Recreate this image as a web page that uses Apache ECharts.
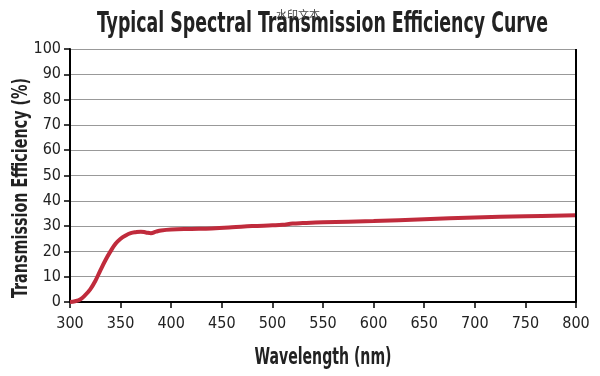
<!DOCTYPE html>
<html>
<head>
<meta charset="utf-8">
<script src="https://cdn.jsdelivr.net/npm/echarts@6/dist/echarts.min.js"></script>
<style>
  html, body { margin: 0; padding: 0; background: #fff; }
  #chart { width: 600px; height: 376px; }
</style>
</head>
<body>
<div id="chart"></div>
<script>
// wavelength (nm) and transmission (%)
const wavelengths = [300, 305, 310, 315, 320, 325, 330, 335, 340, 345, 350, 355, 360, 365, 370, 375, 380, 385, 390, 400, 420, 440, 460, 480, 500, 510, 520, 530, 550, 600, 650, 700, 750, 800];
const efficiency = [0, 0.3, 1, 2.7, 5, 8.3, 12.5, 16.5, 20, 23, 25, 26.3, 27.2, 27.6, 27.8, 27.5, 27.2, 27.8, 28.3, 28.7, 28.9, 29.1, 29.5, 30.0, 30.3, 30.5, 31.0, 31.2, 31.5, 32.0, 32.7, 33.4, 33.9, 34.3];

const titleText = "Typical Spectral Transmission Efficiency Curve";
const xName = "Wavelength (nm)";
const yName = "Transmission Efficiency (%)";

const chart = echarts.init(document.getElementById("chart"));
const cond = "'DejaVu Sans Condensed', 'DejaVu Sans', sans-serif";

// the original uses a tall condensed face; squeeze the bold text to its width
const ctx = document.createElement("canvas").getContext("2d");
function squeezed(text, size, width, x, y, rotation) {
  const font = "bold " + size + "px " + cond;
  ctx.font = font;
  const w = ctx.measureText(text).width;
  return {
    type: "text",
    x: x,
    y: y,
    rotation: rotation || 0,
    scaleX: width / w,
    silent: true,
    style: {
      text: text,
      font: font,
      fill: "#222",
      align: "center",
      verticalAlign: "middle",
    },
  };
}

chart.setOption({
  animation: false,
  graphic: [
    squeezed(titleText, 27.5, 451, 322.5, 25),
    squeezed(xName, 23, 137, 323, 358),
    squeezed(yName, 22, 220, 21, 188, Math.PI / 2),
    {
      type: "text",
      left: 276,
      top: 9,
      silent: true,
      style: {
        text: "水印文本",
        fontFamily: "Noto Sans CJK SC",
        fontSize: 11,
        fill: "#444",
      },
    },
  ],
  grid: {
    left: 70,
    right: 24,
    top: 49,
    bottom: 74,
  },
  xAxis: {
    type: "value",
    min: 300,
    max: 800,
    interval: 50,
    axisLine: { lineStyle: { color: "#000", width: 2 } },
    axisTick: { length: 6, lineStyle: { color: "#000", width: 1.5 } },
    axisLabel: {
      fontFamily: cond,
      fontSize: 16,
      color: "#222",
      margin: 14,
    },
    splitLine: { show: false },
  },
  yAxis: {
    type: "value",
    min: 0,
    max: 100,
    interval: 10,
    axisLine: { show: true, lineStyle: { color: "#000", width: 2 } },
    axisTick: { show: true, length: 6, lineStyle: { color: "#000", width: 1.5 } },
    axisLabel: {
      fontFamily: cond,
      fontSize: 16,
      color: "#222",
      margin: 9,
    },
    splitLine: { lineStyle: { color: "#999", width: 1.2 } },
  },
  series: [
    {
      type: "line",
      data: wavelengths.map((w, i) => [w, efficiency[i]]),
      smooth: 0.4,
      showSymbol: false,
      lineStyle: { color: "#c02b3c", width: 4 },
    },
    {
      // right frame edge
      type: "line",
      data: [[800, 0], [800, 100]],
      showSymbol: false,
      silent: true,
      lineStyle: { color: "#000", width: 2 },
    },
  ],
});
</script>
</body>
</html>
